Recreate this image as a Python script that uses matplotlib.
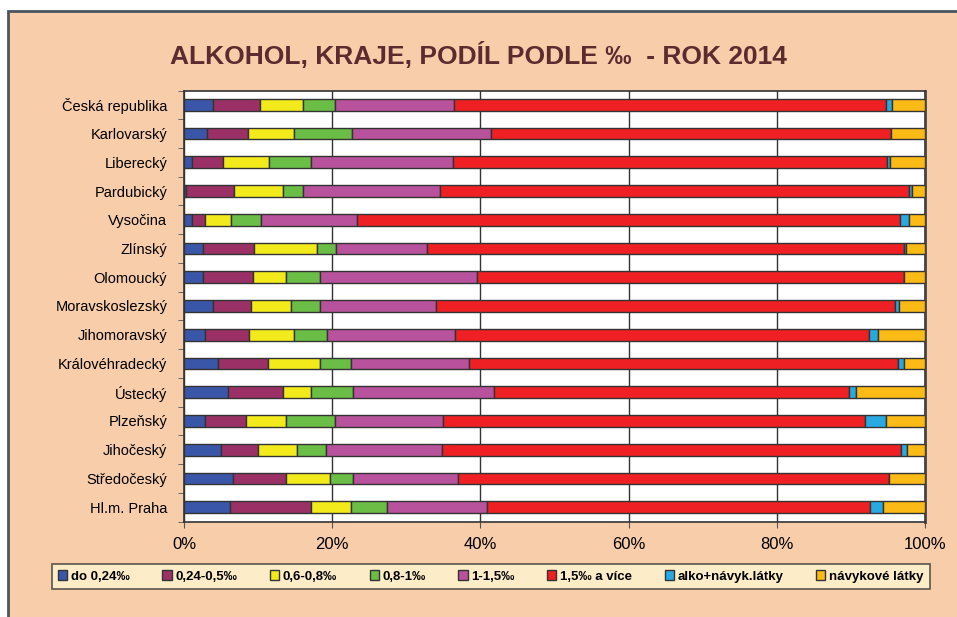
import numpy as np
import matplotlib.pyplot as plt
from matplotlib.patches import Rectangle

# Data (percent share per region, top to bottom as in the chart)
regions = ["Česká republika", "Karlovarský", "Liberecký", "Pardubický", "Vysočina",
           "Zlínský", "Olomoucký", "Moravskoslezský", "Jihomoravský", "Královéhradecký",
           "Ústecký", "Plzeňský", "Jihočeský", "Středočeský", "Hl.m. Praha"]

do_024 = [3.9, 3.1, 1.1, 0.3, 1.1, 2.5, 2.5, 3.9, 2.9, 4.6, 6.0, 2.8, 5.0, 6.6, 6.2]
p024_05 = [6.4, 5.5, 4.1, 6.5, 1.8, 6.9, 6.8, 5.2, 5.9, 6.7, 7.4, 5.6, 5.0, 7.1, 11.0]
p06_08 = [5.7, 6.2, 6.3, 6.5, 3.5, 8.5, 4.4, 5.4, 6.0, 7.1, 3.7, 5.4, 5.2, 6.0, 5.4]
p08_1 = [4.4, 7.9, 5.6, 2.7, 4.0, 2.6, 4.7, 3.8, 4.5, 4.2, 5.7, 6.6, 4.0, 3.1, 4.8]
p1_15 = [16.1, 18.7, 19.2, 18.6, 12.9, 12.3, 21.1, 15.7, 17.3, 15.9, 19.0, 14.5, 15.6, 14.2, 13.5]
p15_vice = [58.2, 54.0, 58.6, 63.3, 73.3, 64.4, 57.7, 62.0, 55.9, 57.8, 48.0, 57.0, 61.9, 58.1, 51.7]
alko_navyk = [0.9, 0.0, 0.4, 0.3, 1.2, 0.3, 0.0, 0.5, 1.2, 0.9, 0.9, 2.8, 0.9, 0.1, 1.7]
navykove = [4.4, 4.6, 4.7, 1.8, 2.2, 2.5, 2.8, 3.5, 6.3, 2.8, 9.3, 5.3, 2.4, 4.8, 5.7]

series = [do_024, p024_05, p06_08, p08_1, p1_15, p15_vice, alko_navyk, navykove]
labels = ["do 0,24‰", "0,24-0,5‰", "0,6-0,8‰", "0,8-1‰", "1-1,5‰",
          "1,5‰ a více", "alko+návyk.látky", "návykové látky"]
colors = ["#3A56A8", "#9B3066", "#F2EA1A", "#6ABD45", "#B8529C",
          "#EE2024", "#27AAE1", "#FBBA16"]

plt.rcParams['font.family'] = ['Liberation Sans', 'DejaVu Sans']

fig = plt.figure(figsize=(9.57, 6.17), dpi=100)
fig.patch.set_facecolor("white")

# peach panel with dark border on top/left
fig.patches.append(Rectangle((8 / 957, -0.01), 1.0, 1 - 11 / 617 + 0.01, transform=fig.transFigure,
                             facecolor="#F8CDAA", edgecolor="#4A5560", linewidth=2, zorder=-5))

ax = fig.add_axes([184 / 957, 1 - 521.5 / 617, (925 - 184) / 957, (521.5 - 90.5) / 617])
ax.set_zorder(2)
ax.set_facecolor("white")

y = np.arange(len(regions))
left = np.zeros(len(regions))
bars = []
for vals, lab, col in zip(series, labels, colors):
    b = ax.barh(y, vals, left=left, height=0.41, color=col, edgecolor="#333333",
                linewidth=1, label=lab, zorder=3)
    bars.append(b)
    left = left + np.array(vals)

ax.set_xlim(0, 100)
ax.set_ylim(len(regions) - 0.5, -0.5)
ax.set_xticks([0, 20, 40, 60, 80, 100])
ax.set_xticklabels(["0%", "20%", "40%", "60%", "80%", "100%"], fontsize=12)
ax.set_yticks(y)
ax.set_yticklabels(regions, fontsize=10.5)
ax.tick_params(axis="y", length=0, pad=12)
ax.set_yticks(np.arange(-0.5, len(regions), 1), minor=True)
ax.tick_params(axis="y", which="minor", length=4, direction="out", color="#555555")
ax.tick_params(axis="x", length=4, direction="out", color="#555555", pad=7)
ax.grid(axis="x", color="#333333", linewidth=1, zorder=1)

for s in ax.spines.values():
    s.set_color("#333333")
    s.set_linewidth(1.2)
ax.spines["right"].set_linewidth(2)
ax.spines["right"].set_color("#444444")

fig.text(0.5, 1 - 55 / 617, "ALKOHOL, KRAJE, PODÍL PODLE ‰  - ROK 2014", ha="center", va="center",
         fontsize=19, fontweight="bold", color="#5B2C2F",
         family=['Liberation Sans Narrow', 'Liberation Sans', 'DejaVu Sans'])

leg = fig.legend(handles=bars, labels=labels, loc="center", ncol=8,
                 bbox_to_anchor=(491 / 957, 1 - 576.5 / 617),
                 prop={'size': 9.5, 'weight': 'bold'}, frameon=True, fancybox=False,
                 handlelength=0.7, handleheight=0.7, handletextpad=0.3, columnspacing=2.45,
                 borderpad=0.45)
leg.get_frame().set_facecolor("#FEF4CF")
leg.get_frame().set_edgecolor("#333333")
leg.get_frame().set_linewidth(1.2)

fig.savefig("out.png", dpi=100, facecolor=fig.get_facecolor())
